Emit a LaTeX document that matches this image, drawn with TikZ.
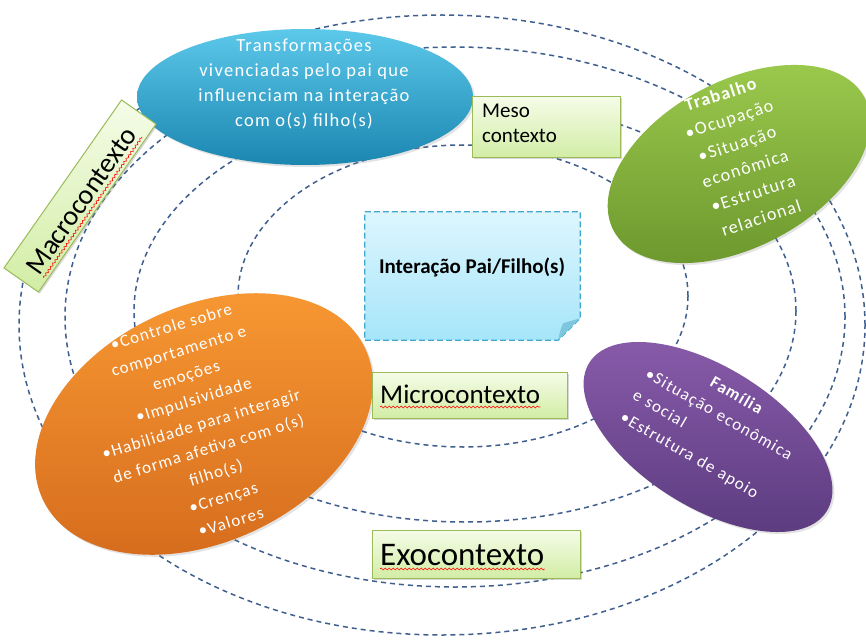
\documentclass[tikz,border=0pt]{standalone}
\usepackage{fontspec}
\setmainfont{Carlito}
\newfontfamily\spacedfont[LetterSpace=7]{Carlito}
\usetikzlibrary{shapes.geometric,shadows,decorations.pathmorphing,calc}
\definecolor{ctxblue}{HTML}{3F5F8F}
\definecolor{bluetop}{HTML}{5CC8EA}
\definecolor{bluebot}{HTML}{1B86B0}
\definecolor{greentop}{HTML}{9DCB4E}
\definecolor{greenbot}{HTML}{6A962C}
\definecolor{orangetop}{HTML}{F99A34}
\definecolor{orangebot}{HTML}{D46A1C}
\definecolor{purpletop}{HTML}{8A5CAB}
\definecolor{purplebot}{HTML}{5A3A7E}
\definecolor{boxtop}{HTML}{F5FCE8}
\definecolor{boxbot}{HTML}{D2EDA5}
\definecolor{boxline}{HTML}{9BBB59}
\definecolor{notetop}{HTML}{DDF6FE}
\definecolor{notebot}{HTML}{A6E5FA}
\definecolor{noteline}{HTML}{3FA8CC}
\definecolor{notefold}{HTML}{7CC6DE}
\begin{document}
\begin{tikzpicture}[x=1pt,y=-1pt,
  ctx/.style={draw=ctxblue, line width=1.5pt, dash pattern=on 5pt off 4pt},
  blob/.style={ellipse, inner sep=0, draw=none, drop shadow={opacity=0.22, shadow xshift=2pt, shadow yshift=-2pt}},
  greenbox/.style={draw=boxline, line width=1pt, top color=boxtop, bottom color=boxbot, inner sep=0,
     drop shadow={opacity=0.3, shadow xshift=1.5pt, shadow yshift=-1.5pt}},
  wtext/.style={text=white, align=center, inner sep=0},
  squig/.style={draw=red, line width=0.6pt, decorate, decoration={snake, segment length=4pt, amplitude=1pt}},
  note/.style={draw=noteline, line width=1.2pt, dash pattern=on 6pt off 3pt, top color=notetop, bottom color=notebot}]
\useasboundingbox (0,0) rectangle (866,639);
\fill[white] (0,0) rectangle (866,639);

% context rings
\draw[ctx] (442,325) ellipse [x radius=423pt, y radius=310pt];
\draw[ctx] (455,317) ellipse [x radius=390pt, y radius=270pt];
\draw[ctx] (465,311) ellipse [x radius=331pt, y radius=211pt];
\draw[ctx] (463,296) ellipse [x radius=225pt, y radius=151pt];

% central note
\node[minimum width=215, minimum height=128, inner sep=0] (inter) at (472.5,276) {};
\path[note] (inter.north west) -- (inter.north east) -- ([yshift=22pt]inter.south east)
  -- ([xshift=-22pt]inter.south east) -- (inter.south west) -- cycle;
\fill[notefold] ([yshift=22pt]inter.south east) -- ([xshift=-22pt]inter.south east)
  .. controls ([xshift=-20pt,yshift=10pt]inter.south east) .. ([xshift=-17pt,yshift=17pt]inter.south east) -- cycle;
\node[font=\bfseries\fontsize{21}{24}\selectfont, inner sep=0] (intert) at (472,267) {Interação Pai/Filho(s)};

% blue ellipse
\node[blob, minimum width=336, minimum height=136, top color=bluetop, bottom color=bluebot] (transf) at (305,97) {};
\node[wtext, font=\spacedfont\fontsize{18.5}{25}\selectfont] (transft) at (304,84)
  {Transformações\\vivenciadas pelo pai que\\influenciam na interação\\com o(s) filho(s)};

% meso box
\node[greenbox, minimum width=148, minimum height=61] (meso) at (546,127.5) {};
\node[anchor=north west, align=left, inner sep=0, font=\fontsize{21}{25}\selectfont] (mesot) at (482,104) {Meso\\contexto};

% green ellipse
\node[blob, rotate=28, minimum width=284, minimum height=166, top color=greentop, bottom color=greenbot] (trab) at (739,164) {};
\node[wtext, rotate=18, font=\spacedfont\fontsize{18}{26}\selectfont] (trabt) at (741,156)
  {\textbf{Trabalho}\\•Ocupação\\•Situação\\econômica\\•Estrutura\\relacional};

% macro box
\begin{scope}[shift={(80,196)}, rotate=55, transform shape]
  \node[greenbox, minimum width=205, minimum height=42] (macro) at (0,0) {};
  \node[inner sep=0, font=\fontsize{28}{28}\selectfont] (macrot) at (-3,4) {Macrocontexto};
  \draw[squig] (-88,17) -- (84,17);
\end{scope}

% orange ellipse
\node[blob, rotate=25, minimum width=356, minimum height=236, top color=orangetop, bottom color=orangebot] (pai) at (204,424) {};
\node[wtext, rotate=17, font=\spacedfont\fontsize{17}{25.5}\selectfont] (pait) at (201,424)
  {•Controle sobre\\comportamento e\\emoções\\•Impulsividade\\•Habilidade para interagir\\de forma afetiva com o(s)\\filho(s)\\•Crenças\\•Valores};

% purple ellipse
\node[blob, rotate=-32, minimum width=280, minimum height=140, top color=purpletop, bottom color=purplebot] (fam) at (708,437) {};
\node[text=white, rotate=-30, inner sep=0, text width=180pt, align=left, font=\spacedfont\fontsize{17}{25}\selectfont] (famt) at (718,429)
  {\hfill\textbf{Família}\hfill\mbox{}\\•Situação econômica\\e social\\•Estrutura de apoio};

% micro box
\node[greenbox, minimum width=195, minimum height=46] (micro) at (469.5,395) {};
\node[anchor=base west, inner sep=0, font=\fontsize{27}{27}\selectfont] (microt) at (380,403) {Microcontexto};
\draw[squig] ([yshift=-4pt]microt.base west) -- ([yshift=-4pt]microt.base east);

% exo box
\node[greenbox, minimum width=208, minimum height=48] (exo) at (476,554) {};
\node[anchor=base west, inner sep=0, font=\fontsize{33}{33}\selectfont] (exot) at (380,565) {Exocontexto};
\draw[squig] ([yshift=-4pt]exot.base west) -- ([yshift=-4pt]exot.base east);
\end{tikzpicture}
\end{document}
